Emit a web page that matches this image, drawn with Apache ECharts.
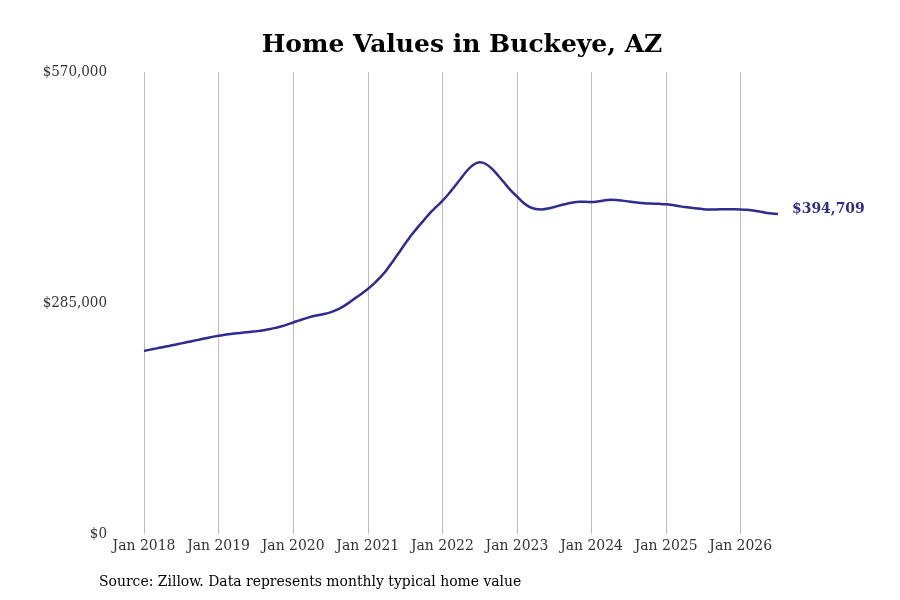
<!DOCTYPE html>
<html>
<head>
<meta charset="utf-8">
<script src="https://cdn.jsdelivr.net/npm/echarts@6/dist/echarts.min.js"></script>
<style>
html,body{margin:0;padding:0;background:#fff;}
#chart{width:900px;height:600px;}
</style>
</head>
<body>
<div id="chart"></div>
<script>
// monthly typical home value, Jan 2018 - Jul 2026
var years = ['2018','2019','2020','2021','2022','2023','2024','2025','2026'];
var monthNames = ['Jan','Feb','Mar','Apr','May','Jun','Jul','Aug','Sep','Oct','Nov','Dec'];
var values = [
	225800, 227500, 229000, 230500, 232000, 233600, 235200, 236800, 238400, 240000, 241600, 243200,
	244700, 245800, 246800, 247700, 248500, 249300, 250100, 251000, 252500, 254000, 256000, 258300,
	261000, 263500, 266000, 268300, 270000, 271500, 273500, 276500, 280500, 285500, 291000, 296500,
	302300, 309000, 316500, 325500, 336000, 347000, 358000, 368500, 378000, 387000, 396000, 403500,
	411000, 419500, 429000, 439000, 448500, 455500, 458500, 456500, 450500, 442000, 433000, 424000,
	416500, 409000, 403500, 401000, 400500, 401500, 403500, 405500, 407500, 409000, 409800, 409800,
	409500, 410200, 411500, 412300, 412200, 411300, 410200, 409200, 408400, 407900, 407600, 407300,
	406800, 405800, 404600, 403400, 402400, 401500, 400800, 400500, 400500, 400600, 400700, 400700,
	400500, 400000, 399000, 397800, 396400, 395300, 394709
];
var yTicks = [0, 285000, 570000];

var months = [];
for(var i = 0; i < values.length; i++){
	months.push(monthNames[i % 12] + ' ' + years[Math.floor(i / 12)]);
}
function isJan(idx){ return idx % 12 === 0; }
function money(v){ return '$' + v.toLocaleString('en-US'); }

var serif = "'DejaVu Serif Condensed', 'DejaVu Serif', serif";
var chart = echarts.init(document.getElementById('chart'));
var option = {
	animation: false,
	title: {
		text: 'Home Values in Buckeye, AZ',
		left: 457,
		top: 28,
		textAlign: 'center',
		textStyle: { fontFamily: "'DejaVu Serif', serif", fontWeight: 'bold', fontSize: 25, color: '#000' }
	},
	graphic: [{
		type: 'text',
		left: 99,
		top: 574,
		style: { text: 'Source: Zillow. Data represents monthly typical home value', font: "15.5px " + serif, fill: '#000' }
	}],
	grid: { left: 144, right: 122, top: 72, bottom: 66 },
	xAxis: {
		type: 'category',
		data: months,
		boundaryGap: false,
		axisLine: { show: false },
		axisTick: { show: false },
		axisLabel: { interval: isJan, margin: 4, fontFamily: serif, fontSize: 15.5, color: '#333' },
		splitLine: { show: true, interval: isJan, lineStyle: { color: '#bdbdbd', width: 1 } }
	},
	yAxis: {
		type: 'value',
		min: yTicks[0],
		max: yTicks[2],
		interval: yTicks[1],
		axisLine: { show: false },
		axisTick: { show: false },
		splitLine: { show: false },
		axisLabel: { margin: 37, padding: [4, 0, 0, 0], fontFamily: serif, fontSize: 15, color: '#333', formatter: money }
	},
	series: [{
		type: 'line',
		data: values,
		smooth: 0.3,
		symbol: 'none',
		lineStyle: { color: '#2f2b8f', width: 2.5 },
		endLabel: {
			show: true,
			distance: 14,
			offset: [0, -5],
			formatter: function(p){ return money(p.value); },
			fontFamily: serif,
			fontWeight: 'bold',
			fontSize: 15.5,
			color: '#2f2b8f'
		}
	}]
};
chart.setOption(option);
</script>
</body>
</html>
